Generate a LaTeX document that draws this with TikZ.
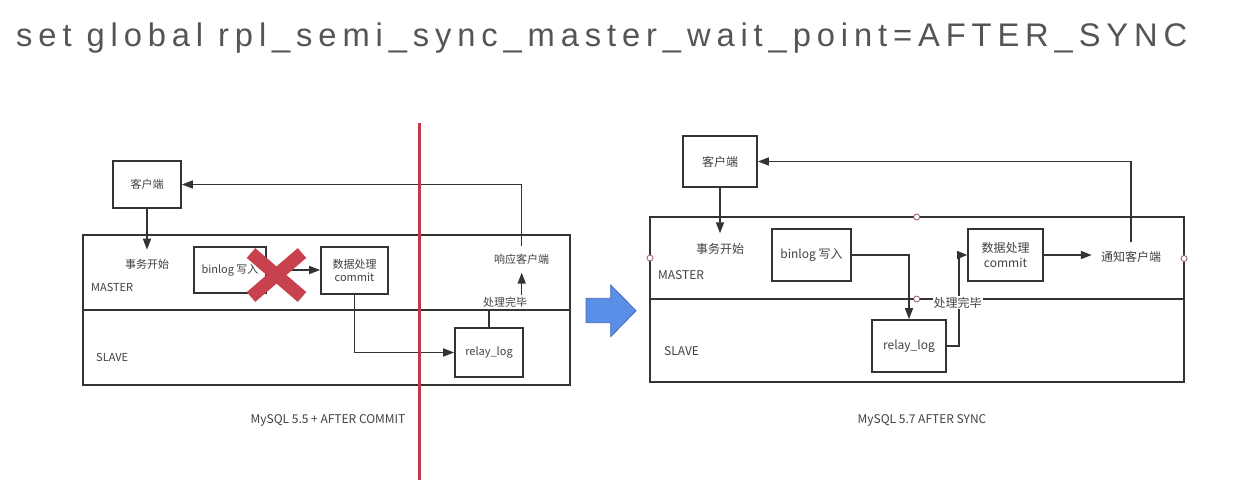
\documentclass[tikz,border=0pt]{standalone}
\usepackage{fontspec}
\setmainfont{Liberation Sans}
\newfontfamily\cjk{Noto Sans CJK SC}
\newfontfamily\titlefont[LetterSpace=18]{Liberation Sans}
\usetikzlibrary{arrows.meta}
\definecolor{ln}{HTML}{333333}
\definecolor{tx}{HTML}{404040}
\definecolor{ttl}{HTML}{555555}
\definecolor{redx}{HTML}{C8414F}
\definecolor{redl}{HTML}{C03A4C}
\definecolor{bfill}{HTML}{5B8EE6}
\definecolor{bdraw}{HTML}{3F6CB8}
\definecolor{circ}{HTML}{A05A64}
\begin{document}
\begin{tikzpicture}[x=1pt,y=-1pt,
  fl/.style={font=\cjk\fontsize{11}{13.5}\selectfont},
  fr/.style={font=\cjk\fontsize{12}{14.5}\selectfont},
  box/.style={draw=ln, line width=1.7pt, inner sep=0pt, align=center, text=tx},
  lbl/.style={inner sep=0pt, text=tx, align=center},
  lane/.style={draw=ln, line width=1.5pt, inner sep=0pt},
  con/.style={draw=ln, line width=1.5pt},
  arr/.style={con, -{Triangle[length=11pt,width=8pt]}},
  dot/.style={circle, draw=circ, fill=white, line width=0.8pt, minimum size=6pt, inner sep=0pt}
]
\useasboundingbox (0,0) rectangle (1254,480);

% title
\node[anchor=base west, inner sep=0pt, text=ttl, font=\titlefont\fontsize{32.7}{36}\selectfont] (title) at (16,46.7)
  {set global rpl\_semi\_sync\_master\_wait\_point=AFTER\_SYNC};

% ---------------- left diagram ----------------
\node[lane, minimum width=487pt, minimum height=75pt] (lmaster) at (326.5,272.5) {};
\node[lane, minimum width=487pt, minimum height=75pt] (lslave) at (326.5,347.5) {};
\node[box, fl, minimum width=68pt, minimum height=47pt] (lc) at (147,184.5) {客户端};
\node[lbl, fl] (ls) at (147,264) {事务开始};
\node[lbl, fl, anchor=west] (lmt) at (91,287) {MASTER};
\node[lbl, fl, anchor=west] (lst) at (96,357) {SLAVE};
\node[box, fl, minimum width=72pt, minimum height=46pt] (lb) at (230,270) {binlog 写入};
\node[box, fl, minimum width=67pt, minimum height=47pt] (lk) at (354.5,270.5) {数据处理\\commit};
\node[box, fl, minimum width=68pt, minimum height=49pt] (lr) at (489,352.5) {relay\_log};
\node[lbl, fl] (ld) at (505,302.7) {处理完毕};
\node[lbl, fl] (lx) at (521.7,259.3) {响应客户端};

\draw[arr, shorten >=9pt] (lc.south) -- (lc.south |- ls.north);
\draw[arr] (lb.east) -- (lb.east -| lk.west);
\draw[arr] (lk.south) |- (lr.west);
\draw[con] (lr.north) -- (lr.north |- lmaster.south);
\draw[arr, shorten <=2pt, shorten >=8pt] (lx.south |- ld.north) -- (lx.south);
\draw[arr, shorten <=8pt] (lx.north) |- (lc.east);

% red X and red divider
\draw[redx, line width=13pt] (251,253) -- (302,297) (251,297) -- (302,253);
\draw[redl, line width=3pt] (419,123) -- (419,480);

% blue arrow
\filldraw[fill=bfill, draw=bdraw, line width=0.8pt]
  (586,298.3) -- (610.7,298.3) -- (610.7,285) -- (636,310.7) -- (610.7,336.7) -- (610.7,322.7) -- (586,322.7) -- cycle;

% ---------------- right diagram ----------------
\node[lane, minimum width=534pt, minimum height=82pt] (rmaster) at (917,258) {};
\node[lane, minimum width=534pt, minimum height=83pt] (rslave) at (917,340.5) {};
\node[box, fr, minimum width=74pt, minimum height=51.5pt] (rc) at (720,161.5) {客户端};
\node[lbl, fr] (rs) at (720,249) {事务开始};
\node[lbl, fr, anchor=west] (rmt) at (658,275) {MASTER};
\node[lbl, fr, anchor=west] (rst) at (664,351) {SLAVE};
\node[box, fr, minimum width=79pt, minimum height=52pt] (rb) at (811.5,255) {binlog 写入};
\node[box, fr, minimum width=74pt, minimum height=52pt] (rr) at (909,346) {relay\_log};
\node[box, fr, minimum width=75pt, minimum height=52pt] (rk) at (1005.5,255) {数据处理\\commit};
\node[lbl, fr] (rn) at (1131,257) {通知客户端};

\draw[arr, shorten >=10pt] (rc.south) -- (rc.south |- rs.north);
\draw[arr] (rb.east) -| (rr.north);
\draw[con, -{Triangle[length=10pt,width=8pt]}] (rr.east) -- ++(12,0) |- (rk.west);
\draw[arr, shorten >=9pt] (rk.east) -- (rk.east -| rn.west);
\draw[arr, shorten <=9pt] (rn.north) |- (rc.east);

\node[lbl, fr, fill=white, inner sep=1pt] (rd) at (957.7,302.7) {处理完毕};

\node[dot] (d1) at (650,258) {};
\node[dot] (d2) at (916.7,217) {};
\node[dot] (d3) at (916.7,299) {};
\node[dot] (d4) at (1184,258.5) {};

% captions
\node[lbl, font=\cjk\fontsize{12}{14}\selectfont] (cap1) at (328,420) {MySQL 5.5 + AFTER COMMIT};
\node[lbl, font=\cjk\fontsize{12}{14}\selectfont] (cap2) at (922,420) {MySQL 5.7 AFTER SYNC};
\end{tikzpicture}
\end{document}
